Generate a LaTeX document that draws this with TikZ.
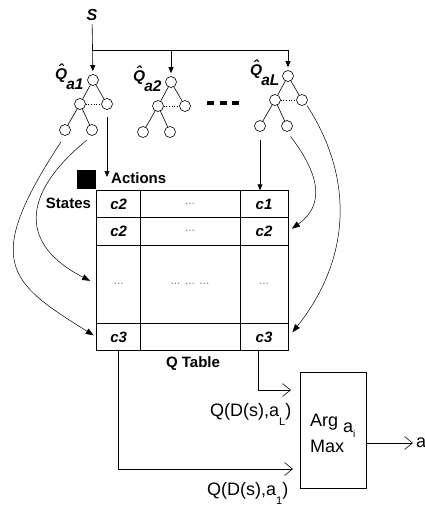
\documentclass[tikz,border=0pt]{standalone}
\usepackage{fontspec}
\setmainfont{Liberation Sans}
\usetikzlibrary{arrows.meta}

\tikzset{
  leaf/.style={circle,draw,minimum size=11pt,inner sep=0pt,line width=0.6pt},
  feed/.style={-{Triangle[length=6pt,width=5pt]},line width=0.6pt},
  curve/.style={-{Triangle[length=8pt,width=6pt]},line width=0.5pt},
  barb/.style={-{Straight Barb[length=8pt,width=13pt]},line width=0.6pt},
  cell/.style={font=\fontsize{15}{18}\selectfont\bfseries\itshape},
  dots/.style={font=\fontsize{12}{14}\selectfont,text=gray},
  lbl/.style={font=\fontsize{15}{18}\selectfont\bfseries},
  big/.style={font=\fontsize{18}{22}\selectfont,inner sep=0pt,anchor=base west},
}
\newcommand{\qhat}{\makebox[0pt][l]{\raisebox{3.5pt}{\kern3pt ˆ}}Q}

\begin{document}
\begin{tikzpicture}[x=1pt,y=-1pt]
  \useasboundingbox (0,0) rectangle (425,506);

  % input state and the fork to every estimator
  \node[font=\fontsize{16}{19}\selectfont\bfseries\itshape] (s) at (92,15) {S};
  \coordinate (fork) at (92,50);

  % one small tree per action
  \foreach \t/\x/\y/\sub in {1/93/80/a1, 2/171/82/a2, 3/288/76/aL}{
    \node[leaf] (root\t) at (\x,\y) {};
    \node[leaf] (left\t) at (\x-13,\y+24) {};
    \node[leaf] (right\t) at (\x+14,\y+24) {};
    \node[leaf] (leafa\t) at (\x-28,\y+50) {};
    \node[leaf] (leafb\t) at (\x-1,\y+50) {};
    \draw[line width=0.6pt] (root\t) -- (left\t) (root\t) -- (right\t)
      (left\t) -- (leafa\t) (left\t) -- (leafb\t);
    \draw[dotted,line width=0.6pt] (left\t) -- (right\t);
    \node[font=\fontsize{15.5}{18}\selectfont\bfseries\itshape,anchor=base west,inner sep=0pt]
      (qhat\t) at (\x-38,\y-1) {\qhat\kern-1pt\raisebox{-10pt}{\sub}};
  }
  \foreach \x in {207,220,232}
    \fill (\x,100.5) rectangle ++(7,4.5);

  \draw[feed,shorten >=3pt] (s) -- (root1);
  \draw[line width=0.6pt] (fork) -- (fork -| root3);
  \draw[feed,shorten >=3pt] (fork -| root2) -- (root2);
  \draw[feed,shorten >=3pt] (fork -| root3) -- (root3);

  % the Q table
  \node[draw,line width=0.8pt,minimum width=191.6pt,minimum height=160pt,inner sep=0pt]
    (qtab) at (192.5,270.7) {};
  \foreach \x in {140.7,240}
    \draw[line width=0.8pt] (\x,190.7) -- (\x,350.7);
  \foreach \y in {217.3,245,323.3}
    \draw[line width=0.8pt] (96.7,\y) -- (288.3,\y);

  \node[cell] (c11) at (118.7,204) {c2};
  \node[dots] (c12) at (190,204) {...};
  \node[cell] (c13) at (264,204) {c1};
  \node[cell] (c21) at (118.7,231) {c2};
  \node[dots] (c22) at (190,231) {...};
  \node[cell] (c23) at (264,231) {c2};
  \node[dots] (c31) at (118.7,284) {...};
  \node[dots] (c32) at (190,284) {... ... ...};
  \node[dots] (c33) at (264,284) {...};
  \node[cell] (c41) at (118.7,337) {c3};
  \node[cell] (c43) at (264,337) {c3};

  \node[fill,minimum size=19pt,inner sep=0pt] (corner) at (86.5,179.5) {};
  \node[lbl,anchor=west,inner sep=0pt] (actions) at (111,178) {Actions};
  \node[lbl] (states) at (68.5,203) {States};
  \node[lbl] (qtitle) at (193,364) {Q Table};

  % tree outputs into the table
  \coordinate (acttip) at (107,177);
  \draw[feed,shorten <=7pt] (right1.south) -- (acttip);
  \draw[feed,shorten <=8pt] (leafa3.south) -- (leafa3 |- qtab.north);
  \draw[curve,shorten <=7pt,shorten >=3pt] (leafa1.south)
    .. controls (-18,262) and (8,282) .. (c41 -| qtab.west);
  \draw[curve,shorten <=7pt,shorten >=7pt] (leafb1.south)
    .. controls (20,195) and (20,245) .. (c31 -| qtab.west);
  \draw[curve,shorten <=6pt,shorten >=4pt] (leafb3.south)
    .. controls (320,175) and (325,205) .. (c23 -| qtab.east);
  \draw[curve,shorten <=2pt,shorten >=6pt] (right3.south east)
    .. controls (355,180) and (350,260) .. (c43 -| qtab.east);

  % arg max over the action values
  \node[draw,line width=0.6pt,minimum width=66pt,minimum height=116pt,inner sep=0pt]
    (argmax) at (333,430) {};
  \node[big] (arg) at (310,426) {Arg};
  \node[big] (ai) at (343,432) {a};
  \node[font=\fontsize{10}{12}\selectfont,inner sep=0pt,anchor=base west] (ii) at (353,437) {i};
  \node[big] (max) at (310,452.7) {Max};

  \coordinate (tapL) at (258,350.7);
  \coordinate (inL) at (291,390);
  \coordinate (in1) at (293,469);
  \draw[barb] (tapL) |- (inL);
  \draw[barb] (c41 |- qtab.south) |- (in1);
  \node[big] (qdl) at (210,416)
    {Q(D(s),a\raisebox{-9pt}{\fontsize{11}{12}\selectfont L})};
  \node[big] (qd1) at (207,495)
    {Q(D(s),a\raisebox{-9pt}{\fontsize{11}{12}\selectfont 1})};

  \coordinate (aout) at (413,443);
  \draw[barb] (argmax.east |- aout) -- (aout);
  \node[big] (act) at (416,447.7) {a};
\end{tikzpicture}
\end{document}
